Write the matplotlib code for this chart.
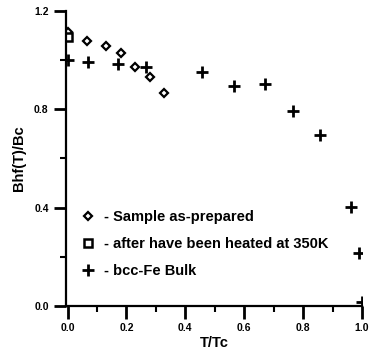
import matplotlib.pyplot as plt
from matplotlib.ticker import MultipleLocator
from matplotlib.lines import Line2D

plt.rcParams['font.family'] = ['Liberation Sans', 'DejaVu Sans']
plt.rcParams['font.weight'] = 'bold'

# Sample as-prepared (diamonds)
t_sample = [0.0, 0.065, 0.132, 0.183, 0.228, 0.279, 0.326]
b_sample = [1.115, 1.078, 1.058, 1.029, 0.972, 0.932, 0.867]

# after heating at 350K (square)
t_heated = [0.0]
b_heated = [1.094]

# bcc-Fe bulk (plus)
t_bulk = [0.0, 0.068, 0.17, 0.265, 0.455, 0.564, 0.672, 0.764, 0.856, 0.964, 0.991, 1.0]
b_bulk = [1.0, 0.993, 0.985, 0.972, 0.952, 0.895, 0.903, 0.793, 0.696, 0.403, 0.216, 0.016]

fig = plt.figure(figsize=(3.71, 3.52), dpi=100)
ax = fig.add_axes([0.178, 0.131, 0.798, 0.838])

ax.plot(t_sample, b_sample, 'D', ms=4.5, mfc='white', mec='black', mew=1.6, ls='none')
ax.plot(t_heated, b_heated, 's', ms=6, mfc='white', mec='black', mew=1.8, ls='none')
ax.plot(t_bulk, b_bulk, '+', ms=8, mec='black', mew=2, ls='none')

ax.set_xlim(-0.005, 1.0)
ax.set_ylim(0.0, 1.2)
ax.xaxis.set_major_locator(MultipleLocator(0.2))
ax.xaxis.set_minor_locator(MultipleLocator(0.1))
ax.yaxis.set_major_locator(MultipleLocator(0.4))
ax.yaxis.set_minor_locator(MultipleLocator(0.2))
ax.xaxis.set_major_formatter(plt.FormatStrFormatter('%.1f'))
ax.yaxis.set_major_formatter(plt.FormatStrFormatter('%.1f'))
ax.tick_params(which='major', direction='out', length=9, width=2, labelsize=7.5)
ax.tick_params(which='minor', direction='out', length=4, width=1.5)

for s in ['top', 'right']:
    ax.spines[s].set_visible(False)
for s in ['left', 'bottom']:
    ax.spines[s].set_linewidth(1.6)

ax.set_xlabel('T/Tc', fontsize=10.5, fontweight='bold', labelpad=2)
ax.set_ylabel('Bhf(T)/Bc', fontsize=10.5, fontweight='bold', labelpad=6)

handles = [
    Line2D([], [], marker='D', ms=4.5, mfc='white', mec='black', mew=1.6, ls='none'),
    Line2D([], [], marker='s', ms=6, mfc='white', mec='black', mew=1.8, ls='none'),
    Line2D([], [], marker='+', ms=8, mec='black', mew=2, ls='none'),
]
labels = ['- Sample as-prepared', '- after have been heated at 350K', '- bcc-Fe Bulk']
ax.legend(handles, labels, loc='upper left', bbox_to_anchor=(0.03, 0.345),
          frameon=False, fontsize=10.5, handlelength=1.0, handletextpad=0.6,
          labelspacing=0.9, borderaxespad=0)

fig.savefig('out.png', dpi=100)
